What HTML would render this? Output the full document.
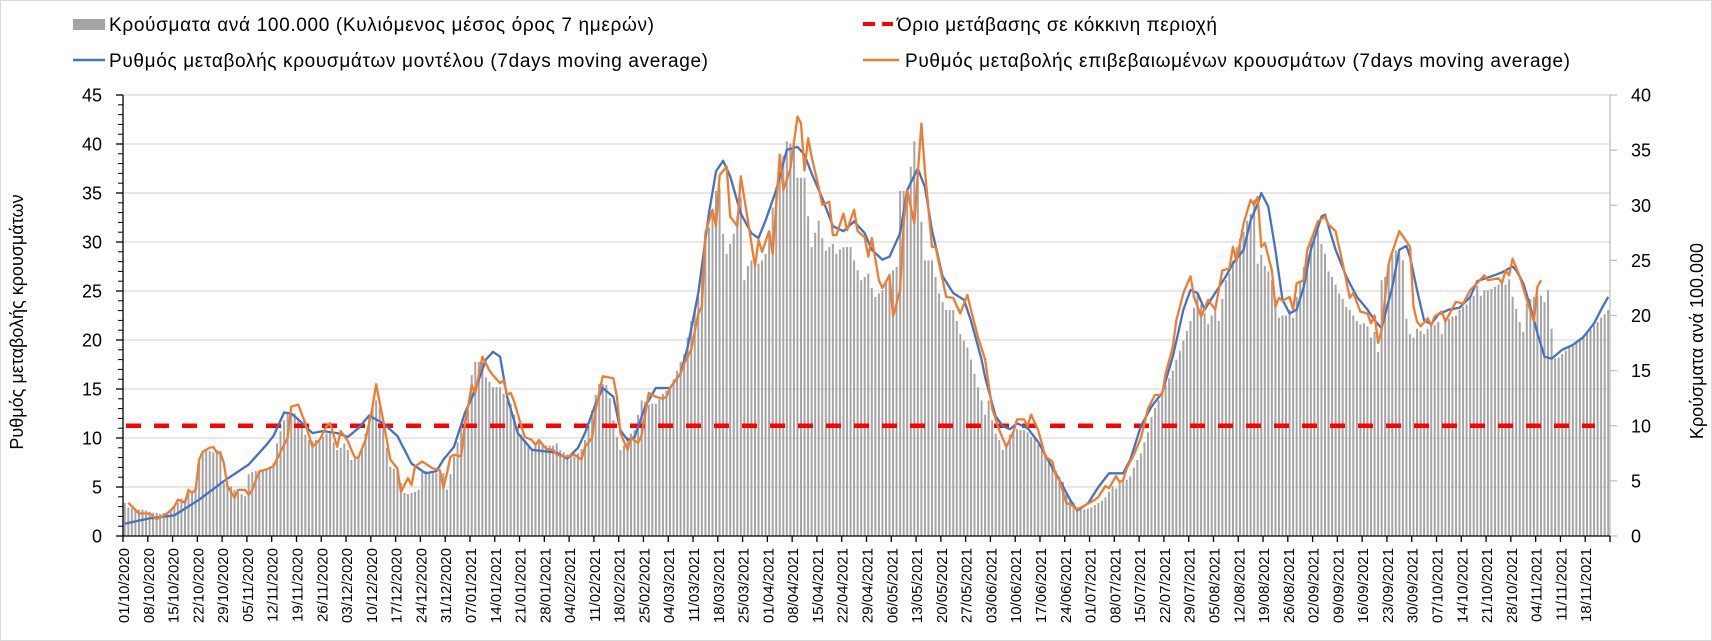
<!DOCTYPE html>
<html><head><meta charset="utf-8"><style>
html,body{margin:0;padding:0;background:#fff;}
svg{display:block;font-family:"Liberation Sans",Arial,sans-serif;}
</style></head><body>
<svg id="chart" width="1712" height="641" viewBox="0 0 1712 641" xmlns="http://www.w3.org/2000/svg">
<rect x="0.5" y="0.5" width="1711" height="640" fill="#fff" stroke="#d9d9d9"/>
<g id="grid"></g>
<g id="bars"></g>
<g id="axes"></g>
<g id="lines"></g>
<g font-size="19" fill="#000">
  <rect x="73" y="19" width="32" height="11" fill="#a5a5a5"/>
  <text x="109" y="31" textLength="545" lengthAdjust="spacing">Κρούσματα ανά 100.000 (Κυλιόμενος μέσος όρος 7 ημερών)</text>
  <line x1="73" y1="60" x2="105" y2="60" stroke="#4472c4" stroke-width="2.5"/>
  <text x="109" y="67" textLength="599" lengthAdjust="spacing">Ρυθμός μεταβολής κρουσμάτων μοντέλου (7days moving average)</text>
  <line x1="863" y1="24" x2="893" y2="24" stroke="#ff0000" stroke-width="4" stroke-dasharray="12,7"/>
  <text x="897" y="31" textLength="320" lengthAdjust="spacing">Όριο μετάβασης σε κόκκινη περιοχή</text>
  <line x1="863" y1="60" x2="899" y2="60" stroke="#ed7d31" stroke-width="2.5"/>
  <text x="905" y="67" textLength="665" lengthAdjust="spacing">Ρυθμός μεταβολής επιβεβαιωμένων κρουσμάτων (7days moving average)</text>
</g>
<text transform="translate(23,322) rotate(-90)" text-anchor="middle" font-size="18">Ρυθμός μεταβολής κρουσμάτων</text>
<text transform="translate(1703,341) rotate(-90)" text-anchor="middle" font-size="18">Κρούσματα ανά 100.000</text>
</svg>
<script>
const leftTicks=[0,5,10,15,20,25,30,35,40,45];
const rightTicks=[0,5,10,15,20,25,30,35,40];
const thresholdRight=10;
const nDays=420;
const startDate=[2020,10,1];
const bars=[
3.0,2.6,2.5,2.5,2.4,2.4,2.3,2.2,2.1,2.1,
2.0,2.1,2.2,2.4,2.6,3.0,3.4,3.3,4.3,4.0,
4.2,6.9,7.5,7.8,7.7,7.6,7.8,7.7,4.8,4.6,
4.5,4.2,4.0,3.8,3.6,5.6,5.8,5.9,5.8,6.0,
6.0,6.3,6.6,8.4,9.5,10.5,11.1,11.0,11.1,10.6,
9.9,9.2,8.7,8.6,8.7,8.7,9.0,9.3,9.3,8.5,
7.8,8.0,8.4,7.8,6.9,7.0,7.2,8.0,9.3,11.0,
12.0,12.3,11.7,9.8,8.0,6.3,6.1,6.0,4.8,3.9,
3.8,3.9,4.0,4.2,5.8,5.9,5.8,5.7,5.7,5.6,
5.7,4.2,5.6,7.2,8.5,9.9,10.6,11.4,14.6,15.8,
15.8,15.8,14.4,14.0,13.5,13.5,13.5,12.9,12.3,12.0,
11.0,9.9,9.2,8.7,8.2,7.9,8.3,8.7,8.4,8.2,
8.2,8.2,8.4,7.8,7.6,7.4,7.3,7.2,7.5,7.9,
8.7,10.0,11.4,12.8,13.8,13.8,13.7,12.5,10.5,9.0,
7.8,8.2,9.0,9.3,9.6,11.0,12.3,12.2,11.9,12.0,
12.0,12.4,12.9,13.2,13.5,14.2,15.0,15.8,16.5,18.0,
19.5,20.5,21.7,24.0,26.8,28.0,29.2,31.3,31.6,27.4,
25.6,26.5,27.4,29.0,30.7,23.2,24.5,25.0,24.8,24.7,
25.0,25.6,27.5,29.8,31.6,33.1,34.5,35.8,35.6,35.5,
32.5,32.5,32.5,29.0,26.2,27.5,28.6,27.0,25.9,26.2,
26.5,25.6,26.0,26.2,26.2,26.2,25.0,24.1,23.2,23.5,
23.8,22.5,21.7,22.0,22.3,23.0,23.8,24.1,24.4,31.3,
31.3,31.3,33.5,35.8,32.2,28.5,25.0,25.0,25.0,23.5,
22.0,21.2,20.5,20.5,20.5,19.5,18.3,17.7,17.1,16.0,
14.7,13.5,12.3,11.0,12.3,10.5,9.3,8.7,7.8,8.4,
9.2,9.6,9.7,9.6,9.6,9.4,9.0,8.8,8.3,7.8,
7.3,6.9,6.3,5.9,5.4,4.9,4.0,3.4,3.0,2.6,
2.5,2.4,2.5,2.6,2.8,3.0,3.2,3.5,4.0,4.5,
4.3,4.8,5.0,5.1,5.4,6.2,6.9,7.5,8.5,9.4,
10.8,11.6,12.3,12.9,13.7,14.3,15.0,16.0,16.8,17.7,
18.6,19.5,20.7,22.0,21.0,20.2,19.2,20.0,20.5,19.5,
21.5,23.2,23.8,25.0,26.2,27.0,27.6,28.6,29.2,30.5,
24.7,25.5,24.5,24.0,23.2,21.5,19.8,20.0,20.0,20.5,
19.8,21.7,23.0,24.4,25.6,26.8,27.2,27.7,26.5,25.6,
24.0,23.5,22.8,22.0,21.5,20.8,20.5,20.0,19.5,19.2,
19.3,19.0,18.0,18.5,16.7,23.2,23.5,24.5,25.5,25.9,
25.5,25.0,19.7,18.3,18.0,18.8,18.6,18.3,18.8,19.1,
19.1,19.4,18.3,19.5,19.7,19.9,20.0,20.5,20.8,21.0,
21.7,21.8,22.7,21.8,22.3,22.3,22.4,22.6,22.8,23.0,
22.8,23.3,21.7,20.6,19.4,18.5,21.1,21.5,21.7,21.8,
21.8,21.2,22.3,18.8,16.1,16.2,16.5,16.8,17.1,17.3,
17.6,17.9,18.2,18.5,18.8,19.1,19.4,19.8,20.1,20.5];
const blueDays=[0,7,14,21,28,35,40,42,45,47,49,53,56,60,63,66,69,73,77,79,81,85,88,90,93,96,99,102,104,106,108,111,115,122,125,128,130,133,135,138,140,142,144,147,150,154,157,159,162,165,167,169,171,174,177,179,181,184,187,190,192,194,197,200,203,206,209,211,214,216,219,221,224,226,228,231,234,237,239,242,243,245,246,248,250,252,255,258,261,264,267,269,272,275,278,282,284,287,290,293,296,299,301,303,305,308,311,313,316,318,320,321,323,325,327,329,331,333,335,338,339,342,345,348,351,353,355,358,360,362,363,365,367,369,371,374,377,380,382,386,389,392,393,395,397,399,401,403,406,409,412,415,417,419];
const blueVals=[1.26,1.8,2.1,3.7,5.6,7.3,9.3,10.2,12.6,12.5,11.9,10.5,10.7,10.5,10.1,11.0,12.3,11.5,10.2,8.8,7.4,6.4,6.6,7.8,9.1,12.5,14.9,18.0,18.8,18.3,14.2,10.5,8.8,8.5,7.9,9.0,10.5,13.5,15.1,14.2,10.8,9.8,10.1,13.2,15.1,15.1,16.6,19.3,24.8,32.9,37.2,38.3,36.7,32.9,30.9,30.4,32.2,35.3,39.4,39.7,38.9,37.0,34.5,31.6,31.1,32.1,30.9,29.2,28.2,28.5,30.9,35.3,37.5,35.6,31.2,26.5,24.8,24.1,22.0,18.0,16.2,13.5,12.2,11.2,10.9,11.5,11.0,9.6,7.6,5.7,3.7,2.6,3.3,5.0,6.4,6.4,7.8,11.2,13.2,14.6,18.3,23.1,25.1,24.8,23.1,24.8,26.5,27.8,29.2,32.2,33.9,35.0,33.6,29.2,24.1,22.7,23.1,25.4,29.2,32.6,32.8,29.2,26.5,24.4,23.1,22.0,21.2,25.4,29.2,29.6,28.5,25.1,22.0,21.6,22.6,23.1,23.3,24.4,26.0,26.5,26.9,27.5,27.1,25.8,23.4,20.7,18.3,18.1,19.0,19.5,20.3,21.7,23.1,24.4];
const orangeDays=[1,4,7,9,12,14,15,17,18,19,20,21,22,24,25,26,27,28,29,31,32,34,35,36,38,40,42,44,46,47,49,51,53,55,57,58,60,61,63,64,65,66,68,70,71,73,75,77,78,80,81,82,84,87,89,90,91,92,93,95,96,98,99,101,103,104,106,107,108,109,110,112,113,115,116,117,119,121,122,124,125,127,129,130,132,133,135,138,139,140,142,143,145,146,148,150,152,153,154,157,158,160,162,163,164,166,167,168,170,171,173,174,176,178,179,180,182,183,185,186,188,190,191,192,193,194,196,197,199,200,201,203,204,206,207,209,210,211,213,214,216,217,219,220,221,223,225,226,228,229,232,234,236,238,239,241,243,244,245,247,249,251,252,254,255,256,258,260,262,263,264,266,267,269,272,274,275,277,278,280,281,282,283,285,287,289,291,293,294,296,297,299,301,302,304,306,308,310,312,313,314,316,318,319,320,321,322,324,325,326,327,329,330,331,333,334,336,337,339,340,342,344,346,347,349,351,352,353,354,355,357,358,360,361,363,364,365,366,368,369,370,372,373,376,378,380,382,384,385,388,389,390,391,392,394,396,398,399,400];
const orangeVals=[3.4,2.3,2.3,1.7,2.3,3.0,3.7,3.4,4.7,4.4,4.7,7.8,8.6,9.0,9.1,8.5,8.5,7.4,5.1,3.9,4.7,4.7,4.2,4.7,6.6,6.8,7.1,8.6,10.0,13.2,13.4,11.5,9.1,9.8,11.2,11.5,9.1,10.7,9.7,8.8,8.0,8.0,9.8,13.2,15.5,11.8,7.8,6.9,4.5,5.9,5.2,7.1,7.6,6.9,6.7,4.9,6.4,8.1,8.3,8.1,11.2,15.4,14.6,18.3,16.9,16.4,15.6,15.9,14.4,14.6,13.7,11.2,10.1,9.8,9.3,9.8,8.9,8.8,8.3,8.1,8.1,8.3,7.8,9.1,10.0,12.9,16.3,16.1,14.2,10.5,8.8,10.0,9.5,10.3,14.6,14.2,14.0,14.2,15.1,16.6,17.6,19.0,22.7,23.4,30.9,33.3,31.6,36.8,37.7,32.6,31.6,36.7,32.2,27.5,30.2,29.0,31.1,28.8,38.9,35.3,37.5,42.8,42.1,37.3,40.6,38.7,35.6,33.8,34.1,30.7,30.7,32.9,31.2,33.3,31.1,30.5,28.5,30.4,26.1,25.3,26.6,22.4,25.1,31.9,35.3,31.9,42.1,37.3,29.5,29.5,24.4,24.3,22.7,24.6,23.1,20.3,18.0,15.5,13.0,10.8,9.1,10.6,11.9,11.9,11.2,12.4,10.8,8.1,7.6,6.1,5.7,3.3,3.3,2.7,3.3,3.7,4.0,5.1,4.9,6.1,5.5,5.7,6.9,8.3,10.0,13.0,14.4,14.4,16.6,19.3,22.0,24.8,26.5,24.4,22.4,24.1,23.1,27.1,27.3,29.5,28.0,31.9,34.3,33.8,34.6,29.5,29.9,27.1,23.4,24.3,24.0,24.4,23.1,25.8,26.1,29.2,31.1,32.1,32.6,31.8,31.1,27.8,24.3,24.8,22.9,22.7,21.7,22.5,19.7,21.0,27.8,29.0,31.1,30.6,29.5,23.4,21.9,21.4,22.2,21.5,22.4,22.9,21.9,23.9,23.7,25.1,25.8,26.6,26.1,26.3,25.8,27.1,26.6,28.3,26.5,24.1,21.9,25.4,26.1];

const NS='http://www.w3.org/2000/svg';
const X0=123,X1=1610,Y0=536,YT=95;
const band=(X1-X0)/nDays;
const xB=d=>X0+d*band;
const xC=d=>X0+(d+0.5)*band;
const yL=v=>Y0-v*(Y0-YT)/45;
const yR=v=>Y0-v*(Y0-YT)/40;
function mk(tag,attrs,parent){const e=document.createElementNS(NS,tag);for(const k in attrs)e.setAttribute(k,attrs[k]);parent.appendChild(e);return e;}
const grid=document.getElementById('grid'),barsG=document.getElementById('bars'),axes=document.getElementById('axes'),lines=document.getElementById('lines');

leftTicks.forEach(t=>{
  if(t>0){const g=mk('line',{x1:X0,x2:X1,y1:yL(t),y2:yL(t),stroke:'#d9d9d9','stroke-width':1.3},grid);
  
  }
  const tk=mk('line',{x1:X0-7,x2:X0,y1:yL(t),y2:yL(t),stroke:'#000','stroke-width':1.3},axes);
  
  
  const lb=mk('text',{x:X0-21,y:yL(t)+6.5,'text-anchor':'end','font-size':18,fill:'#000'},axes);
  lb.textContent=t;
  
  
});
for(let v=1;v<45;v++){if(v%5===0)continue;
  const m=mk('line',{x1:X0-5,x2:X0,y1:yL(v),y2:yL(v),stroke:'#000','stroke-width':1},axes);
  
  
}
rightTicks.forEach(t=>{
  const tk=mk('line',{x1:X1,x2:X1+7,y1:yR(t),y2:yR(t),stroke:'#bfbfbf','stroke-width':1.3},axes);
  
  
  const lb=mk('text',{x:X1+21,y:yR(t)+6.5,'text-anchor':'start','font-size':18,fill:'#000'},axes);
  lb.textContent=t;
  
  
});

bars.forEach((v,i)=>{
  const r=mk('rect',{x:xC(i)-1,y:yR(v),width:2,height:Y0-yR(v),fill:'#a5a5a5'},barsG);
  
  
});

const la=mk('line',{x1:X0,x2:X0,y1:YT,y2:Y0,stroke:'#000','stroke-width':1.3},axes);


const ra=mk('line',{x1:X1,x2:X1,y1:YT,y2:Y0,stroke:'#bfbfbf','stroke-width':1.3},axes);


const ba=mk('line',{x1:X0,x2:X1,y1:Y0,y2:Y0,stroke:'#000','stroke-width':1.3},axes);



const sd=new Date(Date.UTC(startDate[0],startDate[1]-1,startDate[2]));
const pad=n=>String(n).padStart(2,'0');
for(let d=0;d<=nDays;d+=7){
  const tk=mk('line',{x1:xB(d),x2:xB(d),y1:Y0,y2:Y0+6,stroke:'#000','stroke-width':1.3},axes);
  
  
  if(d>=nDays)continue;
  const dt=new Date(sd.getTime()+d*86400000);
  const s=pad(dt.getUTCDate())+'/'+pad(dt.getUTCMonth()+1)+'/'+dt.getUTCFullYear();
  const tx=xB(d)+6;
  const lb=mk('text',{transform:'translate('+tx+','+(Y0+12)+') rotate(-90)','text-anchor':'end','font-size':15,fill:'#000'},axes);
  lb.textContent=s;
  
  
}

const thr=mk('line',{x1:X0+3,x2:X1-15,y1:yR(thresholdRight),y2:yR(thresholdRight),stroke:'#ff0000','stroke-width':4.5,'stroke-dasharray':'15,13'},lines);



const bp=blueDays.map((d,i)=>xC(d).toFixed(1)+','+yL(blueVals[i]).toFixed(1)).join(' ');
const bl=mk('polyline',{points:bp,fill:'none',stroke:'#4472c4','stroke-width':2.3,'stroke-linejoin':'round'},lines);


const op=orangeDays.map((d,i)=>xC(d).toFixed(1)+','+yL(orangeVals[i]).toFixed(1)).join(' ');
const ol=mk('polyline',{points:op,fill:'none',stroke:'#ed7d31','stroke-width':2.3,'stroke-linejoin':'round'},lines);


</script>
</body></html>
